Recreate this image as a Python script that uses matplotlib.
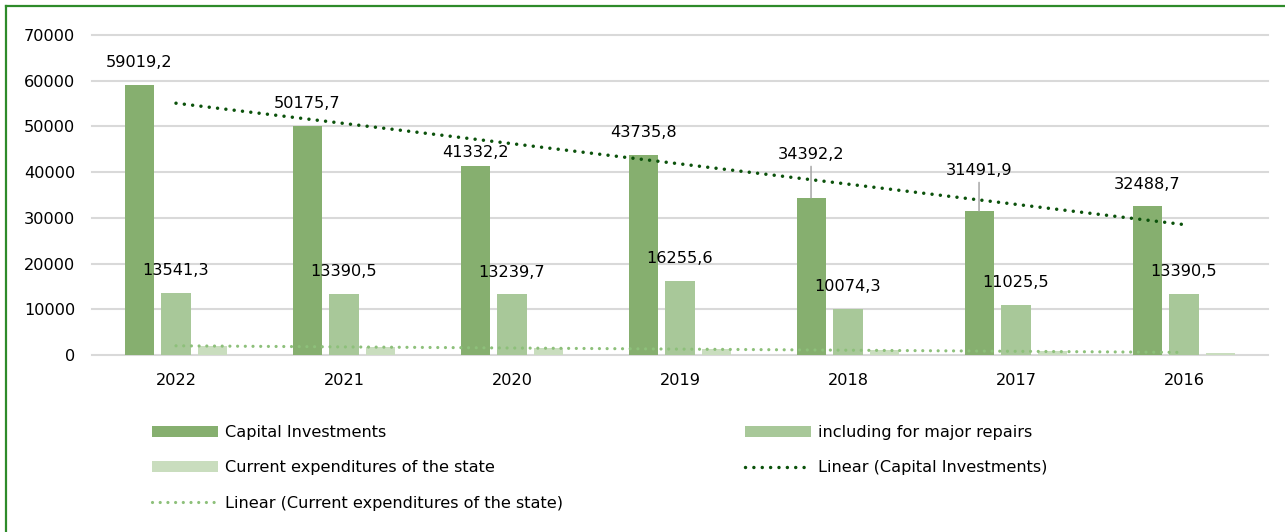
import matplotlib.pyplot as plt
import numpy as np
from matplotlib.lines import Line2D
from matplotlib.patches import Patch

plt.rcParams['font.family'] = ['DejaVu Sans']

years = ['2022', '2021', '2020', '2019', '2018', '2017', '2016']
capital = [59019.2, 50175.7, 41332.2, 43735.8, 34392.2, 31491.9, 32488.7]
repairs = [13541.3, 13390.5, 13239.7, 16255.6, 10074.3, 11025.5, 13390.5]
current = [1970, 1820, 1460, 1310, 1090, 940, 440]

c_cap = '#86AF6F'
c_rep = '#A8C899'
c_cur = '#C9DDBE'
c_trend_cap = '#0B520B'
c_trend_cur = '#8DC07A'
fs = 11.6

W, H = 1285, 532
fig = plt.figure(figsize=(W / 100, H / 100), dpi=100)
ax = fig.add_axes([92 / W, 1 - 355 / H, 1176 / W, 320 / H])

x = np.arange(len(years))
bw = 0.173
step = 0.22
ax.bar(x - step, capital, bw, color=c_cap, zorder=2)
ax.bar(x, repairs, bw, color=c_rep, zorder=2)
ax.bar(x + step, current, bw, color=c_cur, zorder=2)

# trend lines (linear fit, like excel)
dots = (0, (0.01, 2.4))
k, b = np.polyfit(x, capital, 1)
ax.plot(x, k * x + b, color=c_trend_cap, lw=2.5, linestyle=dots,
        dash_capstyle='round', zorder=4)
k2, b2 = np.polyfit(x, current, 1)
ax.plot(x, k2 * x + b2, color=c_trend_cur, lw=2.3, linestyle=dots,
        dash_capstyle='round', zorder=4)


def fmt(v):
    return f'{v:.1f}'.replace('.', ',')


# data labels
cap_off = {2: 10, 4: 31, 5: 29}
for i, v in enumerate(capital):
    off = cap_off.get(i, 16)
    if i in (4, 5):
        ax.annotate(fmt(v), (x[i] - step, v), xytext=(0, off),
                    textcoords='offset points', ha='center', va='center',
                    fontsize=fs, zorder=5,
                    arrowprops=dict(arrowstyle='-', color='#A6A6A6', lw=1.1,
                                    shrinkA=1, shrinkB=0))
    else:
        ax.annotate(fmt(v), (x[i] - step, v), xytext=(0, off),
                    textcoords='offset points', ha='center', va='center',
                    fontsize=fs, zorder=5)
for i, v in enumerate(repairs):
    ax.annotate(fmt(v), (x[i], v), xytext=(0, 16),
                textcoords='offset points', ha='center', va='center',
                fontsize=fs, zorder=5)

ax.set_xlim(-0.5, len(years) - 0.5)
ax.set_ylim(0, 70000)
ax.set_yticks(np.arange(0, 70001, 10000))
ax.set_xticks(x)
ax.set_xticklabels(years)
ax.tick_params(axis='both', length=0, labelsize=fs, colors='#000000')
ax.tick_params(axis='y', pad=12)
ax.tick_params(axis='x', pad=13)
for s in ax.spines.values():
    s.set_visible(False)
ax.set_axisbelow(True)
for yv in ax.get_yticks():
    ax.axhline(yv, color='#D9D9D9', lw=1.5, clip_on=False, zorder=1)

# legend, two columns placed separately
h_cap = Patch(facecolor=c_cap, edgecolor='none')
h_rep = Patch(facecolor=c_rep, edgecolor='none')
h_cur = Patch(facecolor=c_cur, edgecolor='none')
h_tcap = Line2D([], [], color=c_trend_cap, lw=2.5, linestyle=dots, dash_capstyle='round')
h_tcur = Line2D([], [], color=c_trend_cur, lw=2.3, linestyle=dots, dash_capstyle='round')

leg_kw = dict(loc='upper left', frameon=False, fontsize=fs, borderpad=0,
              borderaxespad=0, handlelength=4.1, handletextpad=0.45,
              labelspacing=1.27)
leg1 = fig.legend([h_cap, h_cur, h_tcur],
                  ['Capital Investments', 'Current expenditures of the state',
                   'Linear (Current expenditures of the state)'],
                  bbox_to_anchor=(152 / W, 1 - 425 / H), **leg_kw)
leg2 = fig.legend([h_rep, h_tcap],
                  ['including for major repairs', 'Linear (Capital Investments)'],
                  bbox_to_anchor=(745 / W, 1 - 425 / H), **leg_kw)

# green frame (left and top edges only visible)
fig.add_artist(Line2D([6 / W, 6 / W], [0, 1 - 6 / H], color='#2E8B2A', lw=1.6,
                      transform=fig.transFigure))
fig.add_artist(Line2D([6 / W, 1], [1 - 6 / H, 1 - 6 / H], color='#2E8B2A', lw=1.6,
                      transform=fig.transFigure))

fig.savefig('out.png', dpi=100)
